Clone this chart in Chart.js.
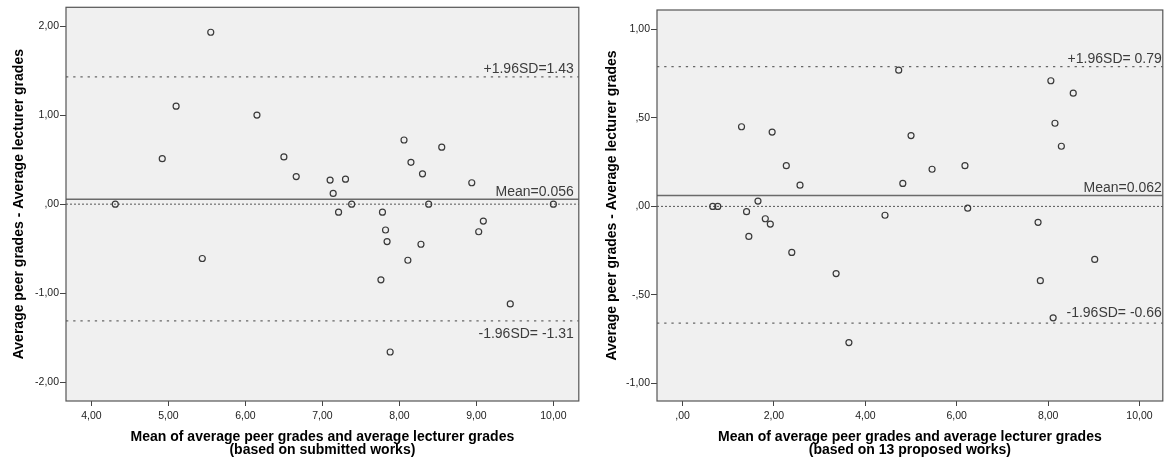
<!DOCTYPE html>
<html>
<head>
<meta charset="utf-8">
<script src="https://cdn.jsdelivr.net/npm/chart.js@4.4.1/dist/chart.umd.min.js"></script>
<style>
  body { margin: 0; background: #fff; }
  .wrap { position: relative; width: 1168px; height: 463px; }
  canvas { position: absolute; top: 0; }
</style>
</head>
<body>
<div class="wrap">
  <canvas id="leftChart" width="584" height="463" style="left:0"></canvas>
  <canvas id="rightChart" width="584" height="463" style="left:584px"></canvas>
</div>
<script>
// Bland-Altman: submitted works
const leftMeanX = [5.55, 5.10, 4.92, 4.31, 5.44, 6.15, 6.50, 6.66, 7.10, 7.14,
                   7.30, 7.21, 7.38, 7.78, 7.82, 7.84, 7.76, 7.88, 8.06, 8.15,
                   8.30, 8.38, 8.28, 8.11, 8.55, 8.94, 9.09, 9.03, 9.44, 10.00];
const leftDiffY = [1.93, 1.10, 0.51, 0.00, -0.61, 1.00, 0.53, 0.31, 0.27, 0.12,
                   0.28, -0.09, 0.00, -0.09, -0.29, -0.42, -0.85, -1.66, 0.72, 0.47,
                   0.34, 0.00, -0.45, -0.63, 0.64, 0.24, -0.19, -0.31, -1.12, 0.00];
const leftLimits = [1.43, 0.056, -1.31];
const leftLimitLabels = ['+1.96SD=1.43', 'Mean=0.056', '-1.96SD= -1.31'];
const leftXTicks = [4, 5, 6, 7, 8, 9, 10];
const leftYTicks = [-2, -1, 0, 1, 2];

// Bland-Altman: 13 proposed works
const rightMeanX = [0.66, 0.77, 1.29, 1.40, 1.45, 1.65, 1.81, 1.92, 1.96, 2.27,
                    2.39, 2.57, 3.36, 3.64, 4.43, 4.73, 4.82, 5.00, 5.46, 6.18,
                    6.24, 7.78, 7.83, 8.06, 8.15, 8.29, 8.11, 8.55, 9.02];
const rightDiffY = [0.00, 0.00, 0.45, -0.03, -0.17, 0.03, -0.07, -0.10, 0.42, 0.23,
                    -0.26, 0.12, -0.38, -0.77, -0.05, 0.77, 0.13, 0.40, 0.21, 0.23,
                    -0.01, -0.09, -0.42, 0.71, 0.47, 0.34, -0.63, 0.64, -0.30];
const rightLimits = [0.79, 0.062, -0.66];
const rightLimitLabels = ['+1.96SD= 0.79', 'Mean=0.062', '-1.96SD= -0.66'];
const rightXTicks = [0, 2, 4, 6, 8, 10];
const rightYTicks = [-1, -0.5, 0, 0.5, 1];

const yTitle = 'Average peer grades - Average lecturer grades';
const xTitleLine = 'Mean of average peer grades and average lecturer grades';

const FONT = '"Liberation Sans", Arial, sans-serif';

// SPSS style numbers: ",50", "-1,00"
function spss(v) {
  let s = Math.abs(v).toFixed(2).replace('.', ',');
  if (s.startsWith('0')) s = s.slice(1);
  return (v < 0 ? '-' : '') + s;
}

// grey plot box + reference line labels
const boxPlugin = {
  id: 'box',
  beforeDraw(chart) {
    const a = chart.chartArea, ctx = chart.ctx;
    ctx.save();
    ctx.fillStyle = '#f0f0f0';
    ctx.fillRect(a.left, a.top, a.right - a.left, a.bottom - a.top);
    ctx.restore();
  },
  afterDraw(chart, args, opts) {
    const a = chart.chartArea, ctx = chart.ctx;
    ctx.save();
    ctx.strokeStyle = '#555';
    ctx.lineWidth = 1.2;
    ctx.strokeRect(a.left, a.top, a.right - a.left, a.bottom - a.top);
    ctx.font = '14px ' + FONT;
    ctx.fillStyle = '#3c3c3c';
    ctx.textAlign = 'right';
    ctx.textBaseline = 'alphabetic';
    const y = chart.scales.y;
    opts.values.forEach((v, i) => {
      const py = y.getPixelForValue(v) + opts.dy[i];
      ctx.fillText(opts.labels[i], a.right - opts.rightGap, py);
    });
    ctx.restore();
  }
};

function makeChart(id, xs, ys, limits, limitLabels, xTicks, yTicks, range, sub, yAxisWidth, pad, labelDy, rightGap, yTitlePad) {
  const points = xs.map((x, i) => ({ x: x, y: ys[i] }));
  const lineSet = (v, dash, color, width) => ({
    type: 'line',
    data: [{ x: range.xmin, y: v }, { x: range.xmax, y: v }],
    borderColor: color,
    borderWidth: width,
    borderDash: dash,
    pointRadius: 0,
    order: 2
  });
  return new Chart(document.getElementById(id), {
    type: 'scatter',
    data: {
      datasets: [
        {
          data: points,
          pointRadius: 3,
          pointBorderWidth: 1.2,
          pointBorderColor: '#3a3a3a',
          pointBackgroundColor: 'transparent',
          order: 0
        },
        lineSet(limits[0], [2.3, 4.9], '#666', 1.3),
        lineSet(0, [2, 2], '#555', 1),
        lineSet(limits[1], [], '#6a6a6a', 1.5),
        lineSet(limits[2], [2.3, 4.9], '#666', 1.3)
      ]
    },
    options: {
      responsive: false,
      animation: false,
      layout: { padding: pad },
      plugins: {
        legend: { display: false },
        tooltip: { enabled: false },
        box: { values: limits, labels: limitLabels, dy: labelDy, rightGap: rightGap }
      },
      scales: {
        x: {
          type: 'linear',
          min: range.xmin,
          max: range.xmax,
          afterBuildTicks: s => { s.ticks = xTicks.map(v => ({ value: v })); },
          afterFit: s => { s.height = 62; },
          grid: { drawOnChartArea: false, drawTicks: true, tickLength: 5, color: '#444' },
          border: { display: false },
          ticks: { callback: v => spss(v), font: { family: FONT, size: 10.5 }, color: '#222', padding: 4, maxRotation: 0 },
          title: {
            display: true,
            text: [xTitleLine, sub],
            color: '#000',
            font: { family: FONT, size: 14, weight: 'bold', lineHeight: 0.93 },
            padding: { top: 0, bottom: 6 }
          }
        },
        y: {
          type: 'linear',
          min: range.ymin,
          max: range.ymax,
          afterBuildTicks: s => { s.ticks = yTicks.map(v => ({ value: v })); },
          afterFit: s => { s.width = yAxisWidth; },
          grid: { drawOnChartArea: false, drawTicks: true, tickLength: 6, color: '#444' },
          border: { display: false },
          ticks: { callback: v => spss(v), font: { family: FONT, size: 10.5 }, color: '#222', padding: 1 },
          title: {
            display: true,
            text: yTitle,
            color: '#000',
            font: { family: FONT, size: 14, weight: 'bold', lineHeight: 1.2 },
            padding: { top: yTitlePad, bottom: 0 }
          }
        }
      }
    },
    plugins: [boxPlugin]
  });
}

makeChart('leftChart', leftMeanX, leftDiffY, leftLimits, leftLimitLabels, leftXTicks, leftYTicks,
  { xmin: 3.67, xmax: 10.33, ymin: -2.21, ymax: 2.21 },
  '(based on submitted works)', 66, { left: 0, right: 3, top: 7, bottom: 0 },
  [-4, -3, 17], 5, 11);

makeChart('rightChart', rightMeanX, rightDiffY, rightLimits, rightLimitLabels, rightXTicks, rightYTicks,
  { xmin: -0.56, xmax: 10.51, ymin: -1.10, ymax: 1.11 },
  '(based on 13 proposed works)', 73, { left: 0, right: 1, top: 10, bottom: 0 },
  [-4, -3, -6], 1, 20);
</script>
</body>
</html>
